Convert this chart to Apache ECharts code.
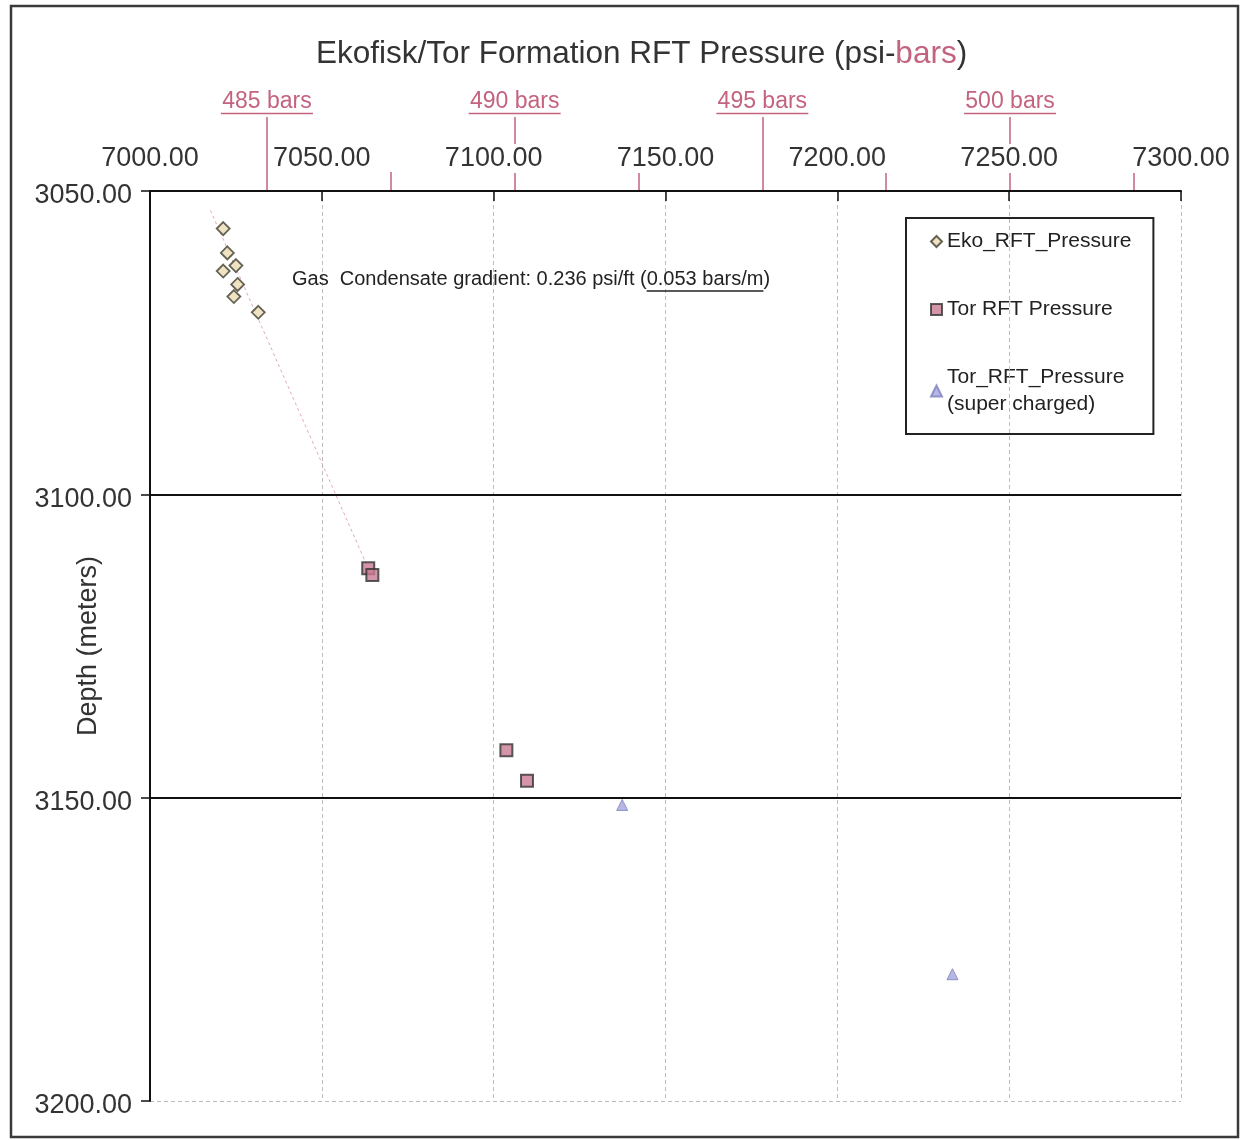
<!DOCTYPE html>
<html>
<head>
<meta charset="utf-8">
<script src="https://cdn.jsdelivr.net/npm/echarts@6/dist/echarts.min.js"></script>
<style>html,body{margin:0;padding:0;background:#fff}#c{width:1242px;height:1140px}</style>
</head>
<body>
<div id="c"></div>
<script>
// ---- data ----
const ekoPsi   = [7021.3, 7022.5, 7025.0, 7021.3, 7025.5, 7024.4, 7031.5];
const ekoDepth = [3056.2, 3060.2, 3062.3, 3063.2, 3065.4, 3067.4, 3070.0];
const torPsi   = [7063.5, 7064.7, 7103.7, 7109.7];
const torDepth = [3112.2, 3113.3, 3142.2, 3147.2];
const superPsi   = [7137.4, 7233.5];
const superDepth = [3151.2, 3179.1];
const gradPsi   = [7017.6, 7063.5];
const gradDepth = [3053.2, 3112.2];
const barMajor = [485, 490, 495, 500];
const barMinor = [487.5, 492.5, 497.5, 502.5];
const depthLines = [3100, 3150];
const seriesNames = ['Eko_RFT_Pressure', 'Tor RFT Pressure', 'Tor_RFT_Pressure\n(super charged)'];
const titleParts = ['Ekofisk/Tor Formation RFT Pressure (psi-', 'bars', ')'];
const annoPre = 'Gas  Condensate gradient: 0.236 psi/ft (';
const annoUnder = '0.053 bars/m';
const annoPost = ')';
const psiRange = [7000, 7300];
const depthRange = [3050, 3200];
const barRange = [482.64, 503.45];

const zip = (a, b) => a.map((v, i) => [v, b[i]]);
const FONT = '"Liberation Sans", Arial, sans-serif';
const PINK = '#c4637f';

const chart = echarts.init(document.getElementById('c'), null, {renderer: 'canvas'});

const annoFont = '20px "Liberation Sans"';
const cv = document.createElement('canvas').getContext('2d');
cv.font = annoFont;
const wPre = cv.measureText(annoPre).width;
const wUnder = cv.measureText(annoUnder).width;
const annoX = 292, annoY = 269;

const option = {
  backgroundColor: '#fff',
  animation: false,
  title: {
    text: '{a|' + titleParts[0] + '}{b|' + titleParts[1] + '}{a|' + titleParts[2] + '}',
    left: 311, top: 33,
    textStyle: {
      fontWeight: 'normal',
      rich: {
        a: {fontFamily: FONT, fontSize: 31.5, fontWeight: 'normal', color: '#333'},
        b: {fontFamily: FONT, fontSize: 31.5, fontWeight: 'normal', color: PINK}
      }
    }
  },
  legend: {
    data: seriesNames,
    orient: 'vertical',
    left: 906, top: 218,
    padding: [10, 22, 16, 24],
    itemGap: 41,
    itemWidth: 11, itemHeight: 11,
    borderColor: '#222', borderWidth: 2,
    backgroundColor: '#fff',
    textStyle: {fontFamily: FONT, fontSize: 21, color: '#222', lineHeight: 27},
    selectedMode: false
  },
  grid: {left: 150, top: 191, right: 61, bottom: 39, containLabel: false, outerBoundsMode: 'none'},
  xAxis: [
    {
      type: 'value', position: 'top', min: psiRange[0], max: psiRange[1], interval: 50,
      z: 5,
      axisLine: {show: true, lineStyle: {color: '#111', width: 2}},
      axisTick: {show: true, inside: true, length: 10, lineStyle: {color: '#111', width: 1.5}},
      axisLabel: {
        formatter: v => v.toFixed(2), fontFamily: FONT, fontSize: 27, color: '#333',
        margin: 18, backgroundColor: '#fff', padding: [1, 3, 1, 3]
      },
      splitLine: {show: true, showMinLine: false, lineStyle: {color: '#bcbcbc', type: [4, 3], width: 1}}
    },
    {
      type: 'value', position: 'top', min: barRange[0], max: barRange[1],
      z: 1,
      axisLine: {show: false},
      axisTick: {show: true, length: 74, customValues: barMajor, lineStyle: {color: PINK, width: 1.5}},
      axisLabel: {
        show: true, customValues: barMajor, margin: 76,
        formatter: v => '{t|' + v + ' bars}\n{u| }',
        rich: {
          t: {fontFamily: FONT, fontSize: 23, color: PINK, lineHeight: 20},
          u: {width: 92, height: 1.5, lineHeight: 3, fontSize: 1, backgroundColor: PINK}
        }
      },
      splitLine: {show: false}
    },
    {
      type: 'value', position: 'top', min: barRange[0], max: barRange[1],
      z: 1,
      axisLine: {show: false},
      axisTick: {show: true, length: 19, customValues: barMinor, lineStyle: {color: PINK, width: 1.5}},
      axisLabel: {show: false},
      splitLine: {show: false}
    }
  ],
  yAxis: {
    type: 'value', inverse: true, min: depthRange[0], max: depthRange[1], interval: 50,
    name: 'Depth (meters)', nameLocation: 'middle', nameGap: 48, nameRotate: 90,
    nameMoveOverlap: false,
    nameTextStyle: {fontFamily: FONT, fontSize: 27, color: '#333'},
    axisLine: {show: true, lineStyle: {color: '#111', width: 2}},
    axisTick: {show: true, length: 9, lineStyle: {color: '#111', width: 1.5}},
    axisLabel: {
      formatter: v => v.toFixed(2), fontFamily: FONT, fontSize: 27, color: '#333', margin: 18,
      verticalAlign: 'top', lineHeight: 10
    },
    splitLine: {show: true, showMinLine: false, lineStyle: {color: '#bcbcbc', type: [4, 3], width: 1}}
  },
  series: [
    {
      name: 'gradient', type: 'line', data: zip(gradPsi, gradDepth), symbol: 'none',
      lineStyle: {color: '#e4a8b8', width: 1, type: [3, 3]}, silent: true, z: 1,
      markLine: {
        silent: true, symbol: 'none', label: {show: false},
        lineStyle: {color: '#111', width: 2, type: 'solid'},
        data: depthLines.map(d => ({yAxis: d}))
      }
    },
    {
      name: seriesNames[0], type: 'scatter', data: zip(ekoPsi, ekoDepth),
      symbol: 'diamond', symbolSize: 13, z: 3,
      itemStyle: {color: '#ecdcb4', borderColor: '#3e3e30', borderWidth: 1.8}
    },
    {
      name: seriesNames[1], type: 'scatter', data: zip(torPsi, torDepth),
      symbol: 'rect', symbolSize: 12, z: 3,
      itemStyle: {color: '#c97a92', borderColor: '#333', borderWidth: 2}
    },
    {
      name: seriesNames[2], type: 'scatter', data: zip(superPsi, superDepth),
      symbol: 'triangle', symbolSize: 11, z: 3,
      itemStyle: {color: '#a4a6dc', borderColor: '#7d7fbf', borderWidth: 1}
    }
  ],
  graphic: [
    {
      type: 'rect', silent: true, z: 0,
      shape: {x: 11, y: 6, width: 1227, height: 1131},
      style: {fill: 'none', stroke: '#3a3a3a', lineWidth: 2.5}
    },
    {
      type: 'text', left: annoX, top: annoY, z: 10,
      style: {text: annoPre + annoUnder + annoPost, font: annoFont, fill: '#222'}
    },
    {
      type: 'line', z: 10, silent: true,
      shape: {x1: annoX + wPre, y1: annoY + 22, x2: annoX + wPre + wUnder, y2: annoY + 22},
      style: {stroke: '#222', lineWidth: 1.5}
    }
  ]
};
chart.setOption(option);
</script>
</body>
</html>
